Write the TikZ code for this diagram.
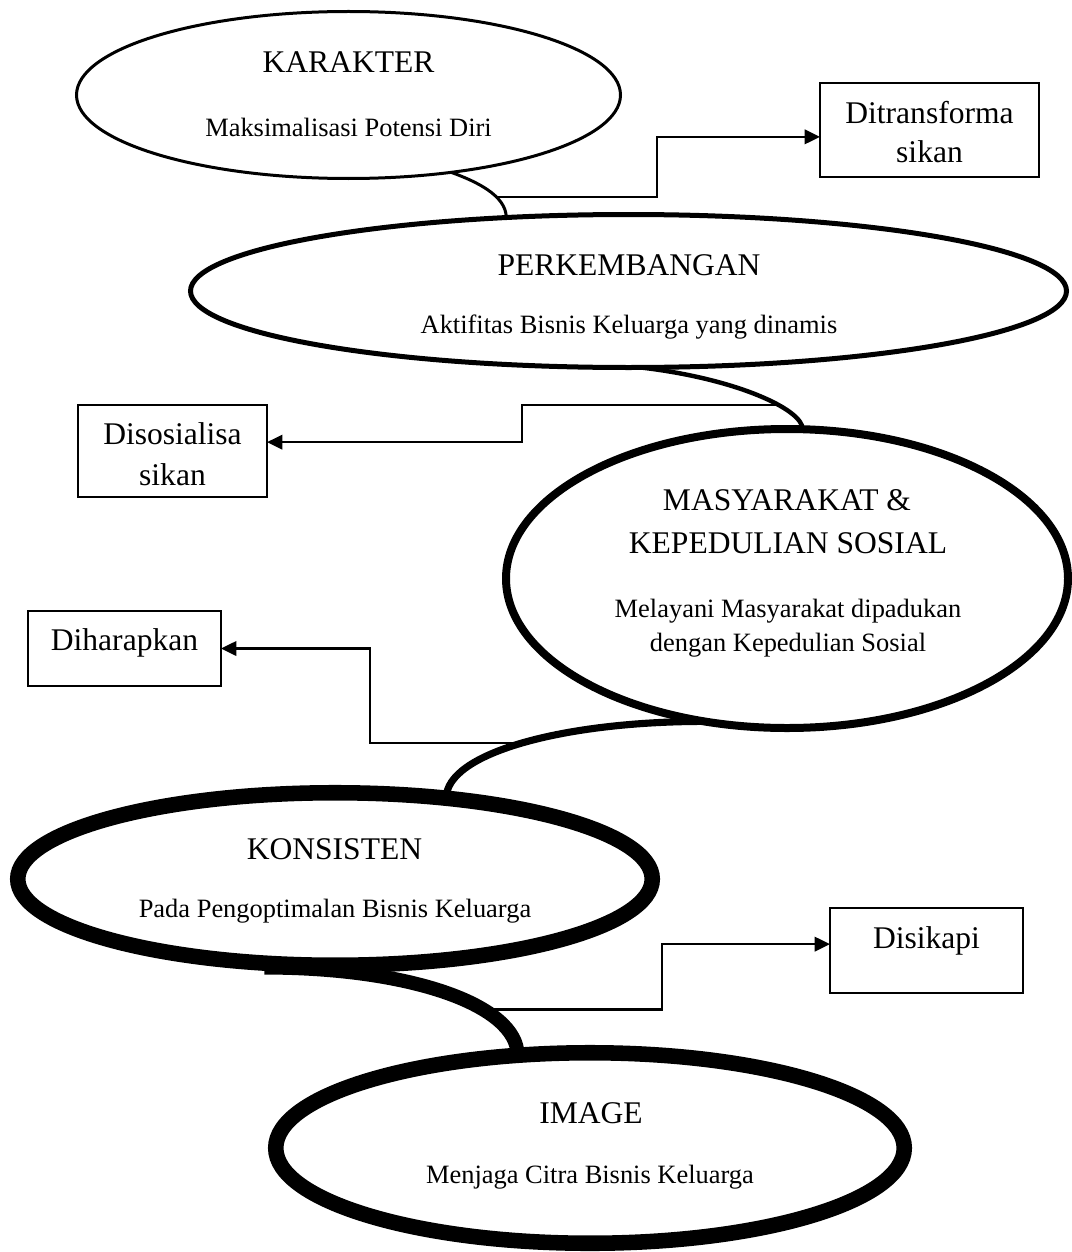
\documentclass[tikz,border=0pt]{standalone}
\usepackage{fontspec}
\setmainfont{Liberation Serif}
\usetikzlibrary{arrows.meta,calc,shapes.geometric}
\def\u{0.45pt}
\begin{document}
\begin{tikzpicture}[x=0.45pt,y=-0.45pt,
  ell/.style={ellipse, draw, inner sep=0pt, outer sep=0pt},
  box/.style={rectangle, draw, line width=0.9pt, inner sep=0pt, outer sep=0pt},
  head/.style={anchor=base, inner sep=0pt, font=\fontsize{14.2}{17}\selectfont},
  sub/.style={anchor=base, inner sep=0pt, font=\fontsize{11.9}{14}\selectfont},
  arr/.style={line width=1pt, -{Triangle[length=6.9pt,width=6.5pt]}},
]
\useasboundingbox (0,0) rectangle (1071,1252);

% ellipses
\node[ell, line width=1.35pt, minimum width={544*\u}, minimum height={167*\u}] (kar) at (348.5,95) {};
\node[ell, line width=2.25pt, minimum width={876*\u}, minimum height={153*\u}] (per) at (628.5,291) {};
\node[ell, line width=3.6pt, minimum width={562*\u}, minimum height={299*\u}] (mas) at (787,578.5) {};
\node[ell, line width=7pt, minimum width={634.5*\u}, minimum height={172.5*\u}] (kon) at (335,879) {};
\node[ell, line width=7pt, minimum width={628.5*\u}, minimum height={190.5*\u}] (img) at (590,1148) {};

% boxes
\node[box, minimum width={219*\u}, minimum height={94*\u}] (dit) at (929.5,130) {};
\node[box, minimum width={189*\u}, minimum height={92*\u}] (dso) at (172.5,451) {};
\node[box, minimum width={193*\u}, minimum height={75*\u}] (dih) at (124.5,648.5) {};
\node[box, minimum width={193*\u}, minimum height={85*\u}] (dsk) at (926.5,950.5) {};

% curved links between ellipses
\draw[line width=1.35pt] (kar.-37.4) .. controls +(25,9) and +(0,-22) .. (per.149.3) coordinate[pos=0.65] (j1);
\draw[line width=2pt] (per.-81.5) .. controls +(95,11) and +(0,-20) .. (mas.84.3) coordinate[pos=0.64] (j2);
\draw[line width=3.2pt] (mas.-120.8) .. controls +(-142,0) and +(0,-45) .. (kon.36.3) coordinate[pos=0.5] (j3);
\draw[line width=6.3pt] ([yshift=-2pt]kon.-130) .. controls +(147,0) and +(0,-50) .. (img.128.6) coordinate[pos=0.66] (j4);

% elbow arrows
\draw[arr] (j1) -- (657,0 |- j1) |- ($(dit.north west)!0.573!(dit.south west)$);
\draw[arr] (j2) -- (522,0 |- j2) |- ($(dso.north east)!0.404!(dso.south east)$);
\draw[arr] (j3) -- (370,0 |- j3) |- (dih.east);
\draw[arr] (j4) -- (662,0 |- j4) |- ($(dsk.north west)!0.425!(dsk.south west)$);

% ellipse texts
\node[head] (karH) at (348.5,73) {KARAKTER};
\node[sub] (karS) at (348.5,137) {Maksimalisasi Potensi Diri};
\node[head] (perH) at (629,275) {PERKEMBANGAN};
\node[sub] (perS) at (629,333) {Aktifitas Bisnis Keluarga yang dinamis};
\node[head] (masH1) at (787,510) {MASYARAKAT \&};
\node[head] (masH2) at (788,553) {KEPEDULIAN SOSIAL};
\node[sub] (masS1) at (788,617) {Melayani Masyarakat dipadukan};
\node[sub] (masS2) at (788,651) {dengan Kepedulian Sosial};
\node[head] (konH) at (334.5,859) {KONSISTEN};
\node[sub] (konS) at (335,917) {Pada Pengoptimalan Bisnis Keluarga};
\node[head] (imgH) at (591,1123) {IMAGE};
\node[sub] (imgS) at (590,1183) {Menjaga Citra Bisnis Keluarga};

% box texts
\node[head] (ditT1) at (929.5,123) {Ditransforma};
\node[head] (ditT2) at (929.5,163) {sikan};
\node[head] (dsoT1) at (172.5,444) {Disosialisa};
\node[head] (dsoT2) at (172.5,485) {sikan};
\node[head] (dihT) at (124.5,650) {Diharapkan};
\node[head] (dskT) at (926.5,948) {Disikapi};
\end{tikzpicture}
\end{document}
